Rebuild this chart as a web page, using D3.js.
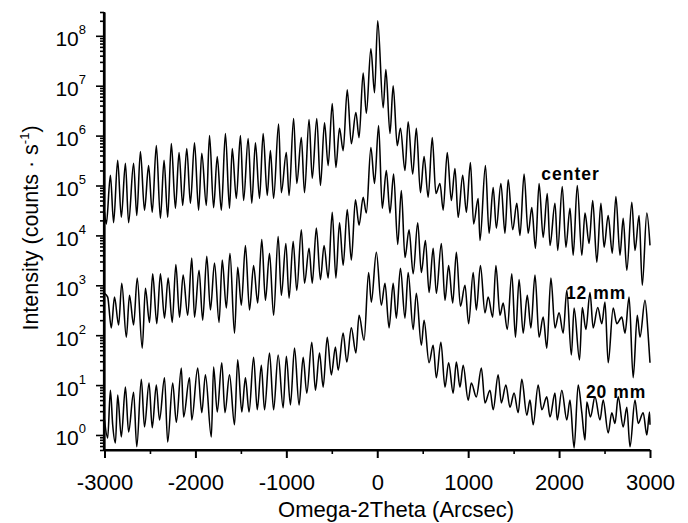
<!DOCTYPE html>
<html><head><meta charset="utf-8">
<script src="https://cdn.jsdelivr.net/npm/d3@7"></script>
<style>body{margin:0;background:#fff}svg{display:block}text{font-family:"Liberation Sans",Arial,Helvetica,sans-serif}</style>
</head><body><svg id="chart" width="688" height="523"></svg>
<script>
// ---- data ----
const xTicks = [-3000,-2000,-1000,0,1000,2000,3000];
const xMinorTicks = [-2500,-1500,-500,500,1500,2500];
const yExponents = [0,1,2,3,4,5,6,7,8];
const seriesNames = ["center","12 mm","20 mm"];
const xTitle = "Omega-2Theta (Arcsec)";

// [Omega-2Theta (arcsec), intensity (counts/s)]
const centerScan = [[-3000,2.9e4],[-2980,1.7e4],[-2935,1.6e5],[-2900,1.8e4],[-2855,3.2e5],[-2815,2.3e4],[-2770,2.8e5],[-2735,1.8e4],[-2680,2.8e5],[-2645,2.5e4],[-2605,4.8e5],[-2560,3.2e4],[-2515,2.5e5],[-2475,2.9e4],[-2430,6.3e5],[-2385,2.2e4],[-2345,3.2e5],[-2305,2.3e4],[-2265,6.9e5],[-2220,3.5e4],[-2180,4.6e5],[-2140,4.0e4],[-2095,5.5e5],[-2055,4.4e4],[-2010,7.2e5],[-1965,3.2e4],[-1930,4.4e5],[-1880,4.0e4],[-1845,1.0e6],[-1800,3.6e4],[-1760,3.8e5],[-1715,3.2e4],[-1670,1.1e6],[-1625,3.5e4],[-1595,5.5e5],[-1550,5.5e4],[-1505,1.0e6],[-1470,5.0e4],[-1420,8.7e5],[-1380,4.4e4],[-1340,7.2e5],[-1295,5.5e4],[-1255,1.1e6],[-1210,6.3e4],[-1175,5.0e5],[-1140,5.5e4],[-1085,1.7e6],[-1055,7.2e4],[-1000,4.6e5],[-970,6.3e4],[-920,2.2e6],[-885,1.1e5],[-835,9.1e5],[-800,7.2e4],[-750,2.1e6],[-715,1.4e5],[-665,2.2e6],[-625,1.0e5],[-580,1.8e6],[-540,2.5e5],[-495,4.4e6],[-455,2.3e5],[-415,1.4e6],[-375,5.0e5],[-330,8.3e6],[-285,6.9e5],[-235,2.9e6],[-200,9.1e5],[-155,1.8e7],[-120,2.8e6],[-70,5.5e7],[-30,7.2e6],[5,2.0e8],[65,3.6e6],[95,2.1e7],[140,1.1e6],[175,1.0e7],[220,6.3e5],[255,1.4e6],[305,2.0e5],[340,1.9e6],[390,1.7e5],[430,1.4e6],[475,7.2e4],[515,3.8e5],[560,5.8e4],[605,9.1e5],[645,6.9e4],[690,1.1e5],[725,3.2e4],[770,4.6e5],[815,5.0e4],[855,2.2e5],[890,2.3e4],[940,1.6e5],[980,2.9e4],[1025,2.9e5],[1060,1.7e4],[1110,5.5e4],[1130,7.9e3],[1190,2.5e5],[1230,1.1e4],[1275,9.1e4],[1310,1.4e4],[1360,1.1e5],[1405,1.1e4],[1440,1.3e5],[1490,1.3e4],[1535,4.4e4],[1570,1.0e4],[1615,1.7e5],[1660,1.1e4],[1700,3.6e4],[1740,5.5e3],[1780,1.1e5],[1825,9.1e3],[1870,6.9e4],[1900,6.3e3],[1955,4.4e4],[1985,5.0e3],[2035,9.5e4],[2075,5.8e3],[2120,3.5e4],[2155,4.0e3],[2200,1.0e5],[2250,4.0e3],[2285,2.8e4],[2330,6.9e3],[2370,5.0e4],[2415,2.9e3],[2460,4.4e4],[2495,5.8e3],[2540,2.5e4],[2585,4.4e3],[2625,6.0e4],[2670,4.0e3],[2705,2.2e4],[2745,2.0e3],[2800,4.6e4],[2835,5.0e3],[2880,2.5e4],[2915,1.0e3],[2965,2.8e4],[3000,6.3e3]];

const mm12Scan = [[-3000,6.9e2],[-2965,5.8e2],[-2925,1.4e2],[-2890,5.8e2],[-2845,1.6e2],[-2810,1.1e3],[-2760,91],[-2725,6.3e2],[-2680,1.6e2],[-2640,1.4e3],[-2585,55],[-2550,8.7e2],[-2505,1.8e2],[-2470,1.7e3],[-2425,1.7e2],[-2385,1.7e3],[-2340,2.2e2],[-2300,1.4e3],[-2255,1.8e2],[-2215,2.6e3],[-2175,2.3e2],[-2135,1.6e3],[-2085,2.5e2],[-2040,3.5e3],[-2010,2.3e2],[-1960,2.0e3],[-1920,2.0e2],[-1875,3.8e3],[-1835,3.2e2],[-1790,2.8e3],[-1740,1.8e2],[-1705,3.2e3],[-1660,3.5e2],[-1620,4.4e3],[-1570,1.1e2],[-1535,2.3e3],[-1495,4.0e2],[-1450,6.3e3],[-1405,3.2e2],[-1360,2.5e3],[-1315,4.4e2],[-1270,8.3e3],[-1230,5.0e2],[-1185,4.4e3],[-1140,2.5e2],[-1090,9.5e3],[-1055,6.3e2],[-1005,6.9e3],[-970,5.5e2],[-925,7.6e3],[-885,7.9e2],[-835,1.3e4],[-800,1.1e3],[-750,5.5e3],[-715,1.1e3],[-670,1.4e4],[-625,1.3e3],[-585,6.3e3],[-540,1.4e3],[-495,2.9e4],[-455,1.4e3],[-415,1.8e4],[-375,2.5e3],[-330,3.3e4],[-285,3.2e3],[-240,5.2e4],[-200,1.6e4],[-155,5.8e4],[-120,2.8e4],[-70,5.8e5],[-30,1.1e5],[15,1.6e6],[55,3.5e4],[100,2.0e5],[140,2.8e4],[180,1.7e5],[225,6.6e3],[265,7.9e4],[305,3.6e3],[350,1.3e4],[395,1.7e3],[445,1.8e4],[485,1.8e3],[530,7.9e3],[570,7.2e2],[615,5.5e3],[650,6.9e2],[705,6.9e3],[745,5.0e2],[785,2.5e3],[830,4.4e2],[870,4.6e3],[915,3.8e2],[965,1.0e3],[1005,1.7e2],[1055,1.8e3],[1090,3.2e2],[1135,2.5e3],[1185,2.8e2],[1220,5.8e2],[1270,2.3e2],[1305,2.5e3],[1350,2.5e2],[1385,4.4e2],[1430,1.3e2],[1480,1.7e3],[1520,91],[1560,1.3e3],[1605,1.1e2],[1650,6.3e2],[1690,1.4e2],[1735,1.6e3],[1780,91],[1825,2.3e2],[1865,55],[1910,1.4e3],[1955,1.4e2],[2000,2.8e2],[2045,1.1e2],[2085,7.9e2],[2135,40],[2165,3.5e2],[2225,32],[2255,3.6e2],[2295,1.3e2],[2340,7.2e2],[2375,1.4e2],[2425,3.6e2],[2470,1.7e2],[2505,4.6e2],[2540,28],[2595,3.5e2],[2635,1.7e2],[2690,2.3e2],[2725,1.1e2],[2770,5.8e2],[2815,14],[2860,2.5e2],[2890,91],[2945,5.0e2],[2980,1.0e2],[3000,28]];

const mm20Scan = [[-3000,2.0],[-2965,0.87],[-2935,7.9],[-2910,1.6],[-2880,0.69],[-2855,6.3],[-2815,0.91],[-2770,9.1],[-2735,1.15],[-2680,7.2],[-2645,0.58],[-2595,13],[-2560,1.45],[-2510,11],[-2475,1.4],[-2430,10],[-2395,2.0],[-2340,14],[-2305,0.72],[-2250,11],[-2210,1.8],[-2155,22],[-2130,2.3],[-2065,14],[-2040,2.0],[-1975,22],[-1930,2.8],[-1890,16],[-1825,0.91],[-1800,23],[-1760,2.9],[-1710,28],[-1675,2.8],[-1625,16],[-1570,1.6],[-1535,32],[-1490,2.9],[-1450,14],[-1410,2.9],[-1360,36],[-1320,3.2],[-1275,25],[-1240,3.2],[-1185,44],[-1140,3.2],[-1090,40],[-1035,3.5],[-1000,38],[-955,4.0],[-910,55],[-860,4.0],[-815,36],[-775,6.9],[-720,72],[-680,7.9],[-635,44],[-595,9.1],[-550,91],[-505,16],[-460,58],[-430,20],[-375,110],[-335,29],[-285,140],[-235,44],[-200,250],[-145,79],[-95,1.8e3],[-65,4.6e2],[-10,4.6e3],[45,4.0e2],[85,1.1e3],[130,1.4e2],[175,1.1e3],[210,2.2e2],[255,2.2e3],[305,2.2e2],[340,1.8e3],[395,1.3e2],[430,6.9e2],[485,63],[515,2.0e2],[570,28],[615,63],[650,14],[700,72],[745,9.1],[785,28],[835,6.9],[870,29],[910,9.1],[945,25],[1000,5.0],[1035,11],[1090,5.8],[1145,22],[1185,4.4],[1240,7.9],[1275,3.2],[1330,16],[1365,4.4],[1415,10],[1460,3.6],[1505,6.9],[1550,2.8],[1590,13],[1645,2.5],[1680,5.0],[1715,1.6],[1770,10],[1810,3.2],[1865,5.8],[1900,2.3],[1955,6.9],[1980,2.0],[2030,7.9],[2085,2.0],[2120,5.0],[2165,0.55],[2210,10],[2250,2.8],[2285,0.79],[2305,4.6],[2345,2.3],[2395,5.8],[2450,2.0],[2485,5.0],[2540,1.1],[2580,2.8],[2615,1.7],[2650,5.8],[2705,1.45],[2745,3.6],[2780,0.58],[2835,5.0],[2870,1.7],[2925,2.8],[2965,1.0],[2995,2.9],[3000,1.6]];

const scans = [centerScan, mm12Scan, mm20Scan];
const labelAnchors = [[1805,1.3e5],[2075,5.3e2],[2295,5.5]]; // label placement in data units (x, intensity at text baseline)

// ---- drawing ----
const svg = d3.select("#chart");
const x = d3.scaleLinear().domain([-3000, 3000]).range([104.5, 650]);
const y = d3.scaleLog().domain([0.5, 3e8]).range([450, 12]);

// minor log ticks
const yMinor = [];
for (let k = -1; k <= 8; k++) for (let m = 2; m <= 9; m++) {
  const v = m * Math.pow(10, k);
  if (v >= 0.5 && v <= 3e8) yMinor.push(v);
}

const gyMinor = svg.append("g").attr("transform", "translate(104,0)")
  .call(d3.axisLeft(y).tickValues(yMinor).tickSize(4).tickSizeOuter(0).tickFormat(""));
const gy = svg.append("g").attr("transform", "translate(104,0)")
  .call(d3.axisLeft(y).tickValues(yExponents.map(e => Math.pow(10, e))).tickSize(8).tickSizeOuter(0).tickFormat(""));

const gxMinor = svg.append("g").attr("transform", "translate(0,450)")
  .call(d3.axisBottom(x).tickValues(xMinorTicks).tickSize(4).tickSizeOuter(0).tickFormat(""));
const gx = svg.append("g").attr("transform", "translate(0,450)")
  .call(d3.axisBottom(x).tickValues(xTicks).tickSize(8).tickSizeOuter(0).tickFormat(d => String(d)));

[gyMinor, gy, gxMinor, gx].forEach(g => {
  g.attr("font-family", null).attr("font-size", null);
  g.select(".domain").attr("stroke", "#000").attr("stroke-width", 2.2);
  g.selectAll(".tick line").attr("stroke", "#000").attr("stroke-width", 1.6);
});
gy.select(".domain").attr("d", "M0,12V451");
gx.select(".domain").attr("d", "M103,0H650");
gx.selectAll(".tick line").attr("stroke-width", 2);

gx.selectAll(".tick text")
  .attr("y", 40).attr("dy", null)
  .attr("fill", "#000")
  .style("font-size", "22px");

gy.selectAll(".tick text").each(function(d) {
  const t = d3.select(this);
  t.text(null).attr("x", -18).attr("y", 10).attr("dy", null)
    .attr("text-anchor", "end").attr("fill", "#000").style("font-size", "21px");
  t.append("tspan").text("10");
  t.append("tspan").attr("dy", -12).style("font-size", "13px").text(Math.round(Math.log10(d)));
});

// curves
const line = d3.line().x(d => x(d[0])).y(d => y(d[1])).curve(d3.curveMonotoneX);
svg.append("g").selectAll("path").data(scans).join("path")
  .attr("d", line).attr("fill", "none").attr("stroke", "#000")
  .attr("stroke-width", 1.55).attr("stroke-linejoin", "round");

// series labels
svg.append("g").selectAll("text").data(seriesNames).join("text")
  .attr("x", (d, i) => x(labelAnchors[i][0]))
  .attr("y", (d, i) => y(labelAnchors[i][1]))
  .attr("fill", "#000").style("font-size", "17.5px").style("font-weight", "bold")
  .style("letter-spacing", "1px")
  .text(d => d);

// axis titles
svg.append("text").attr("x", 396).attr("y", 517).attr("text-anchor", "middle")
  .attr("fill", "#000").style("font-size", "22px").text(xTitle);

const yt = svg.append("text").attr("transform", "translate(38,228) rotate(-90)")
  .attr("text-anchor", "middle").attr("fill", "#000").style("font-size", "21.5px");
yt.append("tspan").text("Intensity (counts \u00b7 s");
yt.append("tspan").attr("dy", -9).style("font-size", "13px").text("-1");
yt.append("tspan").attr("dy", 9).text(")");
</script></body></html>
